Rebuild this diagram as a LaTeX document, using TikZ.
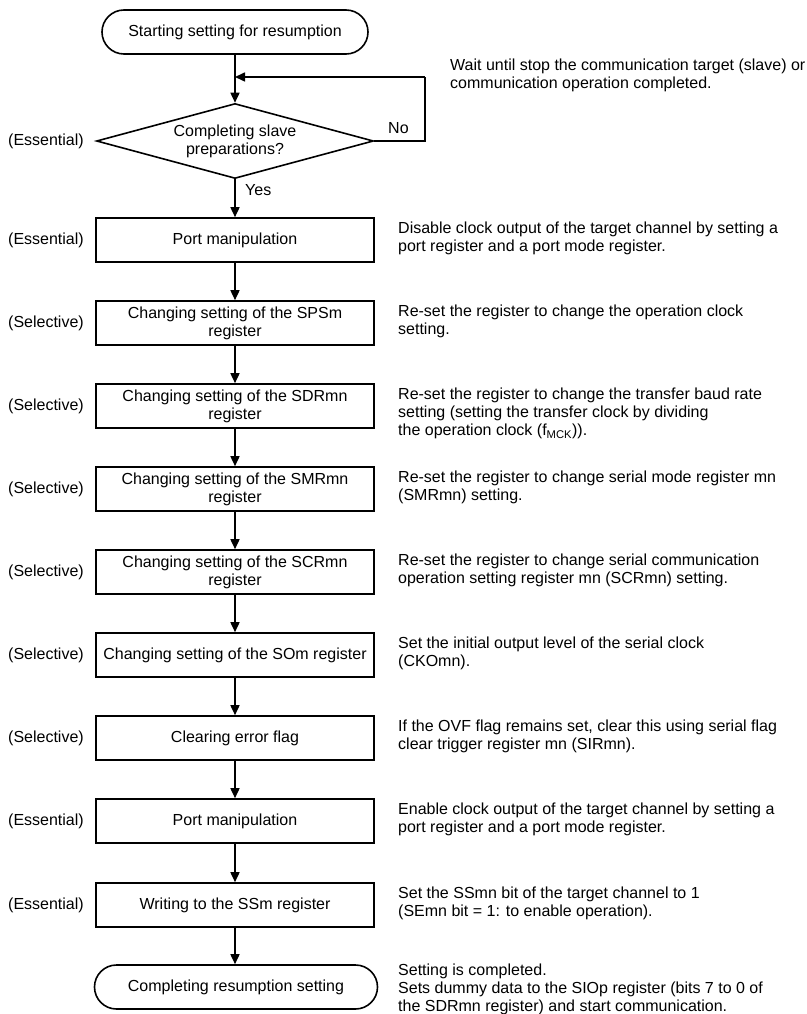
\documentclass[tikz,border=0pt]{standalone}
\usepackage{fontspec}
\setmainfont{Liberation Sans}
\usetikzlibrary{arrows.meta,shapes.geometric}

\tikzset{
	boite/.style={draw, line width=1.6pt, minimum width=278pt, minimum height=44pt, align=center, inner sep=2pt},
	terminal/.style={draw, line width=1.6pt, rounded corners=22pt, minimum height=44pt, align=center},
	test/.style={draw, diamond, aspect=3.7, line width=1.6pt, minimum width=277pt, minimum height=75pt, inner sep=0pt, align=center},
	fleche/.style={line width=1.6pt, -{Triangle[length=10pt,width=9pt]}},
	comm/.style={anchor=north west, align=left, inner sep=0pt},
	cote/.style={anchor=west, inner sep=0pt}
}

\begin{document}
\begin{tikzpicture}[x=1pt, y=-1pt, font=\fontsize{16}{18}\selectfont]
				\path[fill=white, use as bounding box] (0,0) rectangle (806,1014);
				% blocs
				\node[terminal, minimum width=266pt] (debut) at (235,32) {Starting setting for resumption};
				\node[test] (attente) at (235,141) {Completing slave\\preparations?};
				\node[boite] (port1) at (235,240) {Port manipulation};
				\node[boite] (sps) at (235,323) {Changing setting of the SPSm\\register};
				\node[boite] (sdr) at (235,406) {Changing setting of the SDRmn\\register};
				\node[boite] (smr) at (235,489) {Changing setting of the SMRmn\\register};
				\node[boite] (scr) at (235,572) {Changing setting of the SCRmn\\register};
				\node[boite] (so) at (235,655) {Changing setting of the SOm register};
				\node[boite] (erreur) at (235,738) {Clearing error flag};
				\node[boite] (port2) at (235,821) {Port manipulation};
				\node[boite] (ss) at (235,905) {Writing to the SSm register};
				\node[terminal, minimum width=283pt] (fin) at (236,987) {Completing resumption setting};
				% fleches
				\coordinate (retour) at (425,77);
				\coordinate (jonction) at (235,77);
				\draw[fleche] (debut) -- (attente);
				\draw[line width=1.6pt] (attente.east) -| (retour);
				\draw[fleche] (retour) -- (jonction);
				\draw[fleche] (attente) -- (port1);
				\draw[fleche] (port1) -- (sps);
				\draw[fleche] (sps) -- (sdr);
				\draw[fleche] (sdr) -- (smr);
				\draw[fleche] (smr) -- (scr);
				\draw[fleche] (scr) -- (so);
				\draw[fleche] (so) -- (erreur);
				\draw[fleche] (erreur) -- (port2);
				\draw[fleche] (port2) -- (ss);
				\draw[fleche] (ss) -- (ss |- fin.north);
				\node[cote] (non) at (388,128) {No};
				\node[cote] (oui) at (245,190) {Yes};
				% categories a gauche
				\node[cote] (c0) at (8,141) {(Essential)};
				\node[cote] (c1) at (8,240) {(Essential)};
				\node[cote] (c2) at (8,323) {(Selective)};
				\node[cote] (c3) at (8,406) {(Selective)};
				\node[cote] (c4) at (8,489) {(Selective)};
				\node[cote] (c5) at (8,572) {(Selective)};
				\node[cote] (c6) at (8,655) {(Selective)};
				\node[cote] (c7) at (8,738) {(Selective)};
				\node[cote] (c8) at (8,821) {(Essential)};
				\node[cote] (c9) at (8,905) {(Essential)};
				% commentaires a droite
				\node[comm] (t0) at (450,59) {Wait until stop the communication target (slave) or\\communication operation completed.};
				\node[comm] (t1) at (398,222) {Disable clock output of the target channel by setting a\\port register and a port mode register.};
				\node[comm] (t2) at (398,305) {Re-set the register to change the operation clock\\setting.};
				\node[comm] (t3) at (398,388) {Re-set the register to change the transfer baud rate\\setting (setting the transfer clock by dividing\\the operation clock (f\textsubscript{MCK})).};
				\node[comm] (t4) at (398,471) {Re-set the register to change serial mode register mn\\(SMRmn) setting.};
				\node[comm] (t5) at (398,554) {Re-set the register to change serial communication\\operation setting register mn (SCRmn) setting.};
				\node[comm] (t6) at (398,637) {Set the initial output level of the serial clock\\(CKOmn).};
				\node[comm] (t7) at (398,720) {If the OVF flag remains set, clear this using serial flag\\clear trigger register mn (SIRmn).};
				\node[comm] (t8) at (398,803) {Enable clock output of the target channel by setting a\\port register and a port mode register.};
				\node[comm] (t9) at (398,887) {Set the SSmn bit of the target channel to 1\\(SEmn bit = 1: to enable operation).};
				\node[comm] (t10) at (398,964) {Setting is completed.\\Sets dummy data to the SIOp register (bits 7 to 0 of\\the SDRmn register) and start communication.};
		\end{tikzpicture}
\end{document}
